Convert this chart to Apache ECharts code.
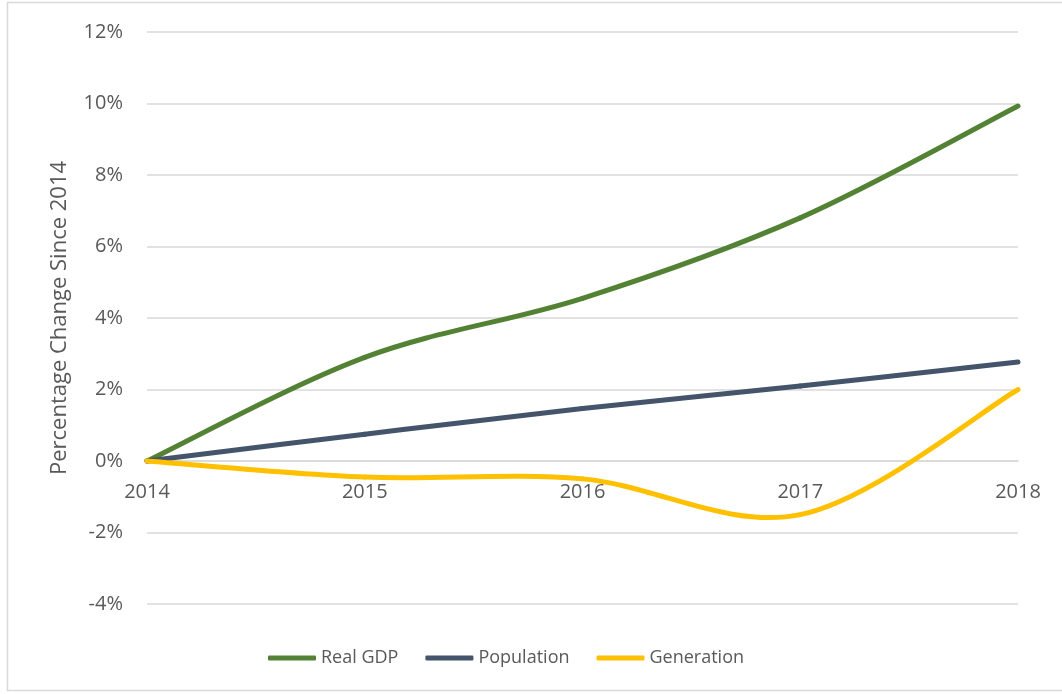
<!DOCTYPE html>
<html>
<head>
<meta charset="utf-8">
<script src="https://cdn.jsdelivr.net/npm/echarts@6/dist/echarts.min.js"></script>
<style>
html,body{margin:0;padding:0;background:#fff;}
#chart{width:1062px;height:694px;}
</style>
</head>
<body>
<div id="chart"></div>
<script>
const years = ['2014', '2015', '2016', '2017', '2018'];
const realGDP = [0, 2.9, 4.55, 6.8, 9.93];
const population = [0, 0.75, 1.47, 2.1, 2.77];
const generation = [0, -0.45, -0.5, -1.5, 2.0];
const yTicks = { min: -4, max: 12, interval: 2 };

const chart = echarts.init(document.getElementById('chart'));
const font = '"Open Sans", "Noto Sans", sans-serif';
const textColor = '#595959';
const gridColor = '#d9d9d9';

// Smooth (Catmull-Rom, like the spreadsheet's smoothed lines) drawn through the axis scales
function splineSeries(name, values, color) {
  const n = values.length;
  const clampIdx = k => Math.max(0, Math.min(n - 1, k));
  return {
    name, type: 'custom',
    data: values.map((v, i) => [i, v]),
    encode: { x: 0, y: 1 },
    itemStyle: { color },
    renderItem: (params, api) => {
      const i = params.dataIndex;
      if (i === 0) return { type: 'group', children: [] };
      const P = k => api.coord([clampIdx(k), values[clampIdx(k)]]);
      const p0 = P(i - 2), p1 = P(i - 1), p2 = P(i), p3 = P(i + 1);
      return {
        type: 'bezierCurve',
        shape: {
          x1: p1[0], y1: p1[1], x2: p2[0], y2: p2[1],
          cpx1: p1[0] + (p2[0] - p0[0]) / 6, cpy1: p1[1] + (p2[1] - p0[1]) / 6,
          cpx2: p2[0] - (p3[0] - p1[0]) / 6, cpy2: p2[1] - (p3[1] - p1[1]) / 6
        },
        style: { stroke: color, lineWidth: 5, fill: null, lineCap: 'round' }
      };
    }
  };
}

chart.setOption({
  animation: false,
  graphic: [{
    type: 'rect', shape: { x: 7.5, y: 2.5, width: 1060, height: 688 },
    style: { fill: 'none', stroke: gridColor, lineWidth: 1.5 }, silent: true, z: -10
  }],
  grid: { left: 147, right: 44, top: 32, bottom: 90 },
  legend: {
    top: 649, left: 268, padding: 0, itemWidth: 48, itemHeight: 5, itemGap: 27,
    icon: 'roundRect',
    textStyle: { color: textColor, fontSize: 18, fontFamily: font },
    data: ['Real GDP', 'Population', 'Generation']
  },
  xAxis: {
    type: 'category', data: years, boundaryGap: false,
    offset: -143,
    axisLine: { show: true, onZero: false, lineStyle: { color: gridColor, width: 1.5 } },
    axisTick: { show: false },
    axisLabel: { color: textColor, fontSize: 20, fontFamily: font, margin: 21 }
  },
  yAxis: {
    type: 'value', min: yTicks.min, max: yTicks.max, interval: yTicks.interval,
    name: 'Percentage Change Since 2014', nameLocation: 'middle', nameGap: 76,
    nameTextStyle: { color: textColor, fontSize: 22, fontFamily: font },
    axisLine: { show: false }, axisTick: { show: false },
    axisLabel: { color: textColor, fontSize: 20, fontFamily: font, margin: 24, formatter: v => v + '%' },
    splitLine: { lineStyle: { color: gridColor, width: 1.5 } }
  },
  series: [
    splineSeries('Real GDP', realGDP, '#548235'),
    splineSeries('Population', population, '#44546A'),
    splineSeries('Generation', generation, '#FFC000')
  ]
});
</script>
</body>
</html>
